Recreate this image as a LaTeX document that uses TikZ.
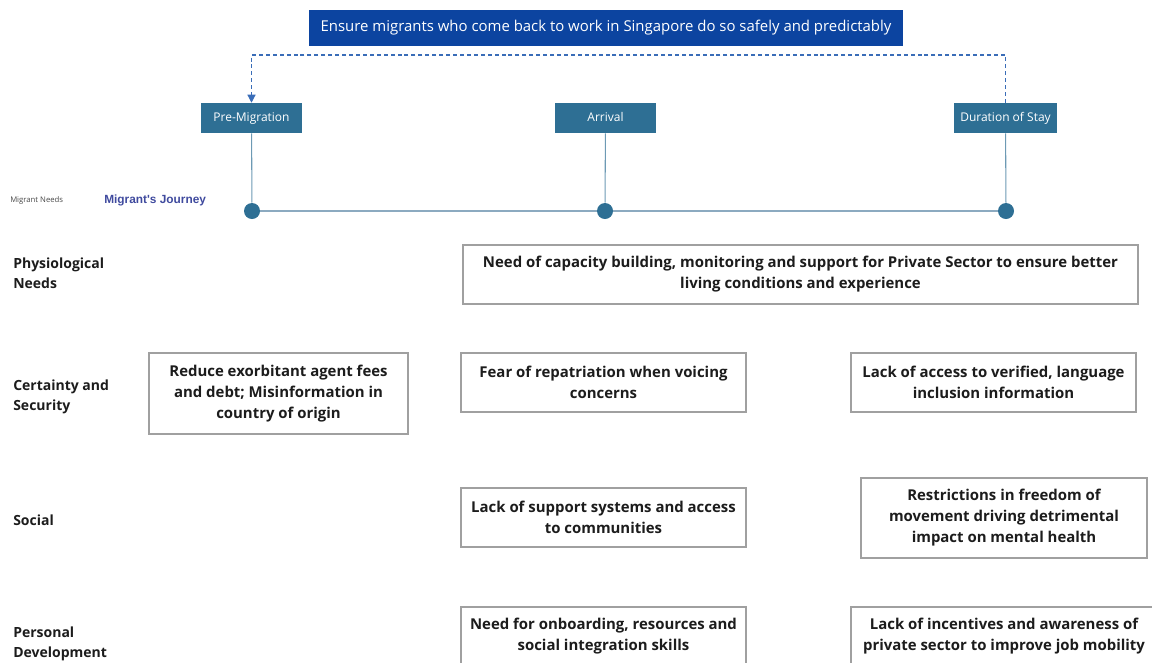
\documentclass[tikz,border=0pt]{standalone}
\usepackage{fontspec}
\setmainfont{Open Sans}
\newfontfamily\arialfont{Liberation Sans}
\usepackage{xcolor}
\usetikzlibrary{arrows.meta,positioning}

\definecolor{goalblue}{RGB}{12,68,160}
\definecolor{phaseteal}{RGB}{46,111,148}
\definecolor{dashblue}{RGB}{58,109,184}
\definecolor{trackgray}{RGB}{140,170,192}
\definecolor{boxgray}{RGB}{160,160,160}
\definecolor{inkdark}{RGB}{28,28,28}
\definecolor{journeyblue}{RGB}{63,74,158}

\tikzset{
  goalbox/.style={fill=goalblue, text=white, font=\fontsize{11.2}{14}\selectfont,
    minimum width=445.5pt, minimum height=27pt, inner sep=0pt},
  phasebox/.style={fill=phaseteal, text=white, font=\fontsize{9}{11}\selectfont,
    minimum height=22.5pt, inner sep=0pt, text height=6.6pt, text depth=1.8pt},
  needbox/.style={draw=boxgray, line width=0.8pt, fill=white, text=inkdark,
    font=\bfseries\fontsize{11.2}{15.75}\selectfont, align=center, inner sep=0pt},
  rowlabel/.style={anchor=west, text=inkdark, align=left, inner sep=0pt,
    font=\bfseries\fontsize{10.5}{15}\selectfont},
  dot/.style={circle, fill=phaseteal, minimum size=12pt, inner sep=0pt},
  stem/.style={draw=phaseteal!70, line width=0.8pt},
  track/.style={draw=trackgray, line width=0.8pt},
  goalline/.style={draw=dashblue, line width=0.9pt, dash pattern=on 3pt off 2.2pt}
}

\begin{document}
\begin{tikzpicture}[x=0.75pt,y=-0.75pt]
    \useasboundingbox (0,0) rectangle (1152,662);
    \clip (0,0) rectangle (1152,662);

    % goal and journey phases
    \node[goalbox] (goal) at (606,28) {Ensure migrants who come back to work in Singapore do so safely and predictably};
    \node[phasebox, minimum width=75.75pt] (pre) at (251.5,118) {Pre-Migration};
    \node[phasebox, minimum width=75.75pt] (arr) at (605.5,118) {Arrival};
    \node[phasebox, minimum width=77.25pt] (dur) at (1005.5,118) {Duration of Stay};
    \coordinate (dashtop) at (628,55);
    \draw[goalline, -{Triangle[width=6pt,length=6pt]}] (dur.north) |- (dashtop) -| (pre.north);

    % timeline
    \node[dot] (d1) at (252,211) {};
    \node[dot] (d2) at (605,211) {};
    \node[dot] (d3) at (1006,211) {};
    \draw[track] (d1) -- (d2) -- (d3);
    \draw[stem] (pre) -- (d1);
    \draw[stem] (arr) -- (d2);
    \draw[stem] (dur) -- (d3);
    \node[anchor=west, inner sep=0pt, text=inkdark!80, font=\fontsize{5.8}{7}\selectfont] (needs) at (10,200) {Migrant Needs};
    \node[anchor=west, inner sep=0pt, text=journeyblue, font=\arialfont\bfseries\fontsize{8.9}{10}\selectfont] (journey) at (104,200.5) {Migrant's Journey};

    % rows of needs
    \node[rowlabel] (physio) at (13,273) {Physiological\\Needs};
    \node[rowlabel] (certain) at (13,397) {Certainty and\\Security};
    \node[rowlabel] (social) at (13,520.5) {Social};
    \node[rowlabel] (personal) at (13,644) {Personal\\Development};

    % need boxes
    \node[needbox, minimum width=506.25pt, minimum height=44.25pt] (capacity) at (800.5,274.5)
        {Need of capacity building, monitoring and support for Private Sector to ensure better\\living conditions and experience};
    \node[needbox, minimum width=194.25pt, minimum height=60.75pt] (fees) at (278.5,393.5)
        {Reduce exorbitant agent fees\\and debt; Misinformation in\\country of origin};
    \node[needbox, minimum width=213.75pt, minimum height=44.25pt] (fear) at (603.5,382.5)
        {Fear of repatriation when voicing\\concerns};
    \node[needbox, minimum width=213.75pt, minimum height=44.25pt] (access) at (993.5,382.5)
        {Lack of access to verified, language\\inclusion information};
    \node[needbox, minimum width=213.75pt, minimum height=44.25pt] (support) at (603.5,517.5)
        {Lack of support systems and access\\to communities};
    \node[needbox, minimum width=214.5pt, minimum height=60pt] (restrict) at (1004,518)
        {Restrictions in freedom of\\movement driving detrimental\\impact on mental health};
    \node[needbox, minimum width=213.75pt, minimum height=44.25pt] (onboard) at (603.5,636.5)
        {Need for onboarding, resources and\\social integration skills};
    \node[needbox, minimum width=229.5pt, minimum height=44.25pt] (mobility) at (1004,636.5)
        {Lack of incentives and awareness of\\private sector to improve job mobility};
\end{tikzpicture}
\end{document}
